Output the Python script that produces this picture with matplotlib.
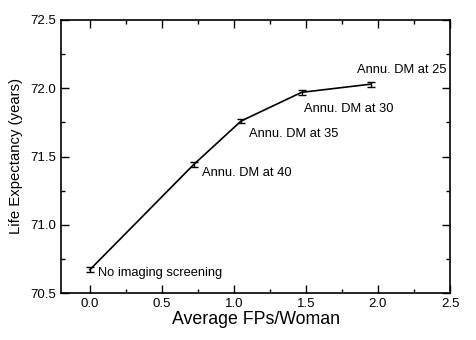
import matplotlib
matplotlib.use('Agg')
import matplotlib.pyplot as plt
from matplotlib.ticker import MultipleLocator, FormatStrFormatter

# data
fps_per_woman = [0.0, 0.72, 1.05, 1.47, 1.95]
life_expectancy = [70.67, 71.44, 71.76, 71.97, 72.03]
errors = [0.018, 0.018, 0.018, 0.018, 0.018]
labels = ['No imaging screening', 'Annu. DM at 40', 'Annu. DM at 35',
          'Annu. DM at 30', 'Annu. DM at 25']

plt.rcParams['font.family'] = ['Liberation Sans', 'DejaVu Sans']

fig = plt.figure(figsize=(4.76, 3.4), dpi=100)
ax = fig.add_axes([61 / 476, 47 / 340, 389 / 476, 273 / 340])

ax.errorbar(fps_per_woman, life_expectancy, yerr=errors, color='black',
            linewidth=1.2, elinewidth=1.0, capsize=3, capthick=1.0)

# label offsets in points (dx, dy)
offsets = [(6, -2), (6, -6), (6, -9), (2, -12), (-10, 10)]
for x, y, txt, (dx, dy) in zip(fps_per_woman, life_expectancy, labels, offsets):
    ax.annotate(txt, (x, y), xytext=(dx, dy), textcoords='offset points',
                ha='left', va='center', fontsize=9.3)

ax.set_xlim(-0.2, 2.5)
ax.set_ylim(70.5, 72.5)
ax.xaxis.set_major_locator(MultipleLocator(0.5))
ax.xaxis.set_minor_locator(MultipleLocator(0.25))
ax.yaxis.set_major_locator(MultipleLocator(0.5))
ax.yaxis.set_minor_locator(MultipleLocator(0.25))
ax.xaxis.set_major_formatter(FormatStrFormatter('%.1f'))
ax.yaxis.set_major_formatter(FormatStrFormatter('%.1f'))
ax.tick_params(which='both', direction='in', top=True, right=True,
               labelsize=9.5, width=1.0)
ax.tick_params(which='major', length=6)
ax.tick_params(which='minor', length=3)
for s in ax.spines.values():
    s.set_linewidth(1.2)

ax.set_xlabel('Average FPs/Woman', fontsize=12.8, labelpad=1)
ax.set_ylabel('Life Expectancy (years)', fontsize=10.7, labelpad=5)

fig.savefig('out.png', dpi=100)
